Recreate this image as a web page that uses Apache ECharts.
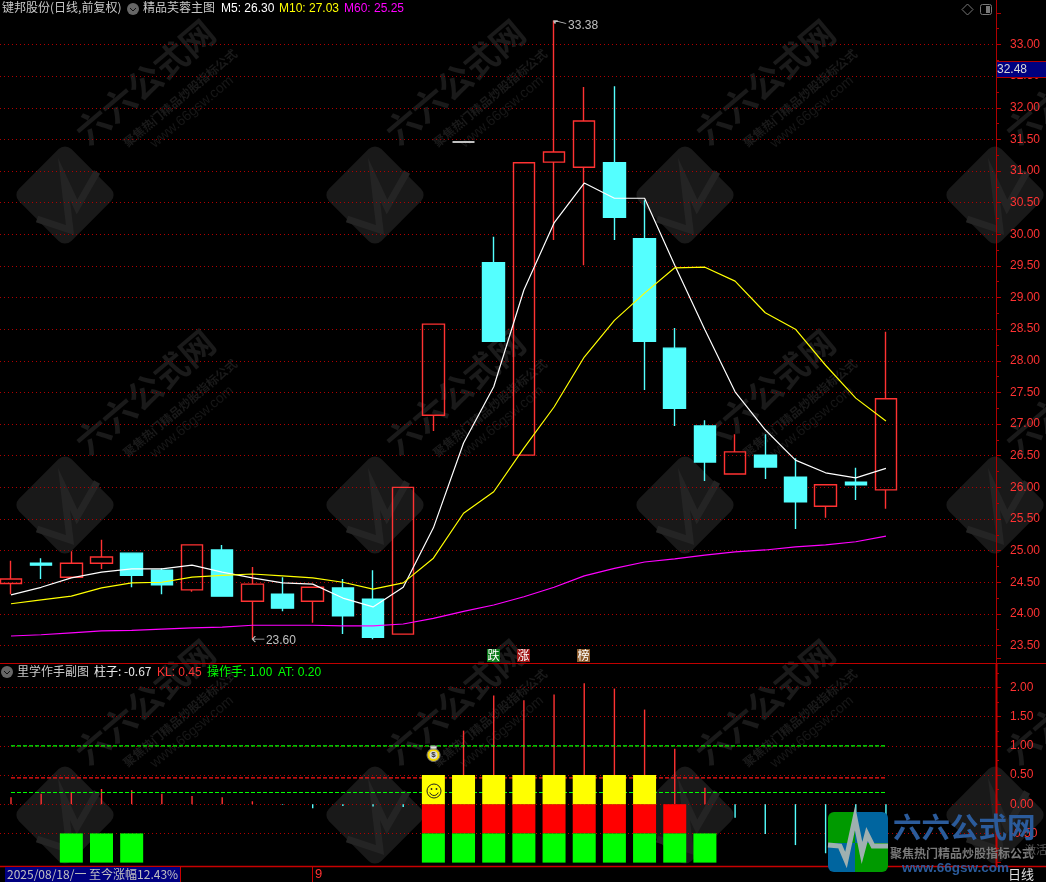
<!DOCTYPE html>
<html><head><meta charset="utf-8">
<style>html,body{margin:0;padding:0;background:#000}#c{width:1046px;height:882px}</style>
<script src="https://cdn.jsdelivr.net/npm/echarts@6/dist/echarts.min.js"></script>
</head><body><div id="c"></div>
<script>
// ---- data ----
const dayIndex=[0,1,2,3,4,5,6,7,8,9,10,11,12,13,14,15,16,17,18,19,20,21,22,23,24,25,26,27,28,29];
const barCategories=['0','1','2','3','4','5','6','7','8','9','10','11','12','13','14','15','16','17','18','19','20','21','22','23','24','25','26','27','28','29','','',''];
const opens =[24.48,24.80,24.58,24.80,24.96,24.69,24.38,25.01,24.20,24.31,24.20,24.41,24.23,23.68,27.14,31.46,29.55,26.51,31.14,31.06,31.13,29.93,28.20,26.97,26.21,26.51,26.16,25.70,26.08,25.96];
const closes=[24.55,24.77,24.80,24.90,24.61,24.46,25.09,24.28,24.47,24.09,24.42,23.97,23.63,26.00,28.58,31.46,28.31,31.13,31.30,31.79,30.27,28.31,27.25,26.40,26.56,26.32,25.77,26.04,26.04,27.40];
const lows  =[24.31,24.55,24.58,24.71,24.42,24.31,24.35,24.28,23.60,24.04,23.86,23.68,23.60,23.68,26.89,31.46,28.31,26.51,29.91,29.51,29.91,27.54,26.97,26.10,26.21,26.13,25.34,25.52,25.80,25.66];
const highs =[24.84,24.88,24.99,25.17,24.96,24.72,25.10,25.09,24.74,24.58,24.42,24.55,24.69,26.00,28.58,31.46,29.96,31.13,33.38,32.33,32.34,30.54,28.52,27.06,26.84,26.84,26.46,26.04,26.31,28.46];
const ma5 =[24.30,24.42,24.57,24.66,24.71,24.71,24.77,24.66,24.57,24.49,24.47,24.25,24.11,24.42,25.36,26.70,27.59,29.12,30.18,30.81,30.57,30.57,29.51,28.49,27.51,26.91,26.43,26.23,26.15,26.30];
const ma10=[24.16,24.22,24.28,24.41,24.49,24.50,24.58,24.61,24.63,24.60,24.57,24.50,24.39,24.49,24.88,25.59,25.93,26.62,27.27,28.06,28.64,29.07,29.47,29.48,29.26,28.76,28.50,27.93,27.41,27.05];
const ma60=[23.65,23.67,23.70,23.73,23.74,23.76,23.78,23.79,23.82,23.82,23.82,23.81,23.81,23.84,23.93,24.04,24.14,24.27,24.42,24.60,24.72,24.82,24.87,24.93,24.98,25.01,25.06,25.09,25.14,25.23];
const pillar=[0.12,0.18,0.21,0.26,0.24,0.18,0.14,0.12,0.05,-0.01,-0.07,-0.03,-0.04,-0.05,0.40,1.26,1.86,1.78,1.88,2.07,1.98,1.62,0.95,0.28,-0.23,-0.51,-0.70,-0.84,-0.85,-0.67];
const spacerBars=[null,null,-0.5,-0.5,-0.5,null,null,null,null,null,null,null,null,null,null,null,null,null,null,null,null,null,null,-0.5,null,null,null,null,null,null];
const redBars   =[null,null,null,null,null,null,null,null,null,null,null,null,null,null,-0.5,-0.5,-0.5,-0.5,-0.5,-0.5,-0.5,-0.5,-0.5,null,null,null,null,null,null,null];
const greenBars =[null,null,-0.5,-0.5,-0.5,null,null,null,null,null,null,null,null,null,-0.5,-0.5,-0.5,-0.5,-0.5,-0.5,-0.5,-0.5,-0.5,-0.5,null,null,null,null,null,null];
const yellowBars=[null,null,null,null,null,null,null,null,null,null,null,null,null,null,0.5,0.5,0.5,0.5,0.5,0.5,0.5,0.5,null,null,null,null,null,null,null,null];
const operatorLine=[1.00,1.00];
const klLine=[0.45,0.45];
const atLine=[0.20,0.20];
const lineEnds=[0,29];
const xRange=[-0.3646,32.648];

const FONT='"Liberation Sans","Noto Sans CJK SC",sans-serif';
const CJK='"Noto Sans CJK SC","Liberation Sans",sans-serif';
const RED='#ff3232',CYAN='#54ffff',GRID='#b00000',FRAME='#b00000';
const zip=a=>dayIndex.map((x,i)=>[x,a[i]]);

function txt(x,y,text,fill,size,extra){return Object.assign({type:'text',z:100,style:{x,y,text,fill,font:(extra&&extra.weight||'normal')+' '+size+'px '+((extra&&extra.family)||FONT),verticalAlign:'middle',align:(extra&&extra.align)||'left'}},extra&&extra.el||{});}
function line(x1,y1,x2,y2,stroke,w,z){return {type:'line',z:z==null?90:z,shape:{x1,y1,x2,y2},style:{stroke,lineWidth:w||1}};}
function rect(x,y,w,h,fill,r,z){return {type:'rect',z:z==null?95:z,shape:{x,y,width:w,height:h,r:r||0},style:{fill}};}

// faint repeated watermark
const wm=[];
const WMC='#1a1a1a';
[65,375,685,995].forEach(cx=>[195,505,815].forEach(cy=>{
  const ang=40*Math.PI/180;
  wm.push({type:'group',x:cx,y:cy,z:-1,children:[
    {type:'rect',z:-1,rotation:Math.PI/4,shape:{x:-37,y:-37,width:74,height:74,r:9},style:{fill:'#191919'}},
    {type:'polyline',z:-1,shape:{points:[[-28,24],[5,35],[-1,-16],[12,12],[32,-23]]},style:{stroke:'#242424',lineWidth:7,fill:null}},
    {type:'text',z:-1,x:80,y:-113,rotation:ang,style:{x:0,y:0,text:'六六公式网',fill:WMC,font:'bold 34px '+CJK,align:'center',verticalAlign:'middle'}},
    {type:'text',z:-1,x:115,y:-97,rotation:ang,style:{x:0,y:0,text:'聚焦热门精品炒股指标公式',fill:WMC,font:'bold 12px '+CJK,align:'center',verticalAlign:'middle'}},
    {type:'text',z:-1,x:127,y:-83,rotation:ang,style:{x:0,y:0,text:'www.66gsw.com',fill:'#171717',font:'14px '+FONT,align:'center',verticalAlign:'middle'}}
  ]});
}));

const icon=(cx,cy)=>[
  {type:'circle',z:100,shape:{cx,cy,r:6},style:{fill:'#666'}},
  {type:'polyline',z:101,shape:{points:[[cx-3,cy-1],[cx,cy+2],[cx+3,cy-1]]},style:{stroke:'#111',lineWidth:1,fill:null}}
];
const badge=(x,t,bg)=>[rect(x,649,13,13,bg,0,96),txt(x+6.5,655,t,'#fff',12,{family:CJK,align:'center',el:{z:97}})];

const smiley=[
  {type:'circle',z:100,shape:{cx:434,cy:791,r:7},style:{fill:null,stroke:'#222',lineWidth:1}},
  {type:'circle',z:100,shape:{cx:431.5,cy:789,r:0.9},style:{fill:'#222'}},
  {type:'circle',z:100,shape:{cx:436.5,cy:789,r:0.9},style:{fill:'#222'}},
  {type:'arc',z:100,shape:{cx:434,cy:791,r:4.5,startAngle:0.35,endAngle:2.8},style:{stroke:'#222',lineWidth:1,fill:null}}
];
const moneyBag=[
  {type:'circle',z:100,shape:{cx:433.5,cy:755,r:6.5},style:{fill:'#f4d800',stroke:'#777',lineWidth:1}},
  {type:'circle',z:101,shape:{cx:433.5,cy:755,r:4},style:{fill:'#ddd'}},
  txt(433.5,755,'$','#333',8,{align:'center',weight:'bold',el:{z:102}}),
  {type:'polygon',z:100,shape:{points:[[430,746],[437,746],[436,749],[431,749]]},style:{fill:'#ddd',stroke:'#888',lineWidth:1}}
];

const graphics=[...wm,
  // frame
  line(996.5,0,996.5,663,FRAME,1),
  line(0,663.5,1046,663.5,'#c00000',1),
  line(996.5,664,996.5,866,'#c80000',2),
  line(0,866.5,1046,866.5,'#c80000',1.5),
  // header
  txt(2,7.5,'键邦股份(日线,前复权)','#c8c8c8',12,{family:CJK}),
  ...icon(133,9),
  txt(143,7.5,'精品芙蓉主图','#c8c8c8',12,{family:CJK}),
  txt(221,8.5,'M5: 26.30','#ffffff',12),
  txt(279,8.5,'M10: 27.03','#ffff00',12),
  txt(344,8.5,'M60: 25.25','#ff00ff',12),
  // sub pane header
  ...icon(7,672),
  txt(17,671,'里学作手副图','#c8c8c8',12,{family:CJK}),
  txt(94,671,'柱子: -0.67','#e8e8e8',12,{family:CJK}),
  txt(157,672.5,'KL: 0.45',RED,12),
  txt(207,671,'操作手: 1.00','#00ff00',12,{family:CJK}),
  txt(278,672.5,'AT: 0.20','#00ff00',12),
  // top right icons
  {type:'polygon',z:100,shape:{points:[[967.5,4],[973,9.5],[967.5,15],[962,9.5]]},style:{fill:null,stroke:'#777',lineWidth:1}},
  {type:'rect',z:100,shape:{x:980.5,y:4.5,width:11,height:10,r:2},style:{fill:null,stroke:'#777',lineWidth:1}},
  rect(986,6,4,7,'#777',0,100),
  // cross value box
  {type:'rect',z:100,shape:{x:996.5,y:61.5,width:50,height:16},style:{fill:'#000080',stroke:'#b00000',lineWidth:1}},
  txt(997,69.5,'32.48','#d8d8d8',12,{el:{z:101}}),
  // badges
  ...badge(487,'跌','#0a7a1a'),...badge(517,'涨','#a01414'),...badge(577,'榜','#8b5a2b'),
  ...moneyBag,...smiley,
  // status bar
  rect(5,867,175,15,'#000080',0,95),
  line(5.5,867,5.5,882,'#c80000',1),line(180.5,867,180.5,882,'#c80000',1),line(312.5,867,312.5,882,'#c80000',1),
  txt(7,874,'2025/08/18/一 至今涨幅12.43%','#c0c0c0',12,{family:CJK}),
  txt(315,874.5,'9',RED,13),
  // site logo
  {type:'rect',z:110,shape:{x:828,y:812,width:27,height:31,r:[6,0,0,0]},style:{fill:'#009a00'}},
  {type:'rect',z:110,shape:{x:855,y:812,width:33,height:31,r:[0,6,0,0]},style:{fill:'#00659f'}},
  {type:'rect',z:110,shape:{x:828,y:843,width:27,height:29,r:[0,0,0,6]},style:{fill:'#00659f'}},
  {type:'rect',z:110,shape:{x:855,y:843,width:33,height:29,r:[0,0,6,0]},style:{fill:'#009a00'}},
  {type:'polyline',z:111,shape:{points:[[828,845],[840,846],[846,860],[855,818],[862,853],[867,834],[873,846],[888,846]]},style:{stroke:'#9fb0b0',lineWidth:5,fill:null}},
  txt(893,827,'六六公式网','#2b5b9b',28.5,{family:CJK,weight:'bold',el:{z:110}}),
  txt(890,853,'聚焦热门精品炒股指标公式','#7a7a7a',12,{family:CJK,weight:'bold',el:{z:110}}),
  txt(902,868,'www.66gsw.com','#2b5b9b',13.5,{weight:'bold',el:{z:110}}),
  txt(1008,874,'日线','#e0e0e0',13,{family:CJK,el:{z:112}}),
  txt(1025,850,'激活','#555555',11,{family:CJK,el:{z:112}})
];

const axisCommon={type:'value',position:'right',scale:true,interval:0.5,
  axisLine:{show:false,onZero:false},
  axisTick:{show:true,length:5,lineStyle:{color:FRAME}},
  minorTick:{show:true,splitNumber:2,length:3,lineStyle:{color:FRAME}},
  axisLabel:{color:RED,fontSize:12,fontFamily:FONT,margin:14,formatter:v=>v.toFixed(2),showMaxLabel:false},
  splitLine:{show:true,showMaxLine:false,lineStyle:{color:GRID,type:[1,3],width:1}}
};
const subTop=658.2,subHeight=204.4;

const chart=echarts.init(document.getElementById('c'),null,{renderer:'canvas',width:1046,height:882});
chart.setOption({
  backgroundColor:'#000',animation:false,
  grid:[{left:0,width:996,top:12.87,height:632.63,outerBoundsMode:'none'},
        {left:0,width:996,top:subTop,height:subHeight,outerBoundsMode:'none'},
        {left:-4.09,width:995.61,top:subTop,height:subHeight,outerBoundsMode:'none'}],
  xAxis:[
    {type:'value',gridIndex:0,min:xRange[0],max:xRange[1],show:false},
    {type:'value',gridIndex:1,min:xRange[0],max:xRange[1],show:false},
    {type:'category',gridIndex:2,data:barCategories,show:false}
  ],
  yAxis:[
    Object.assign({},axisCommon,{gridIndex:0,min:23.5,max:33.5}),
    Object.assign({},axisCommon,{gridIndex:1,min:-1,max:2.5,
      axisLabel:Object.assign({},axisCommon.axisLabel,{showMinLabel:false}),
      splitLine:{show:true,showMaxLine:false,showMinLine:false,lineStyle:axisCommon.splitLine.lineStyle}}),
    {type:'value',gridIndex:2,min:-1,max:2.5,show:false}
  ],
  graphic:{elements:graphics},
  series:[
    {type:'candlestick',name:'K',xAxisIndex:0,yAxisIndex:0,barWidth:22,z:3,
     data:dayIndex.map((x,i)=>[x,opens[i],closes[i],lows[i],highs[i]]),
     itemStyle:{color:'transparent',color0:CYAN,borderColor:RED,borderColor0:CYAN,borderColorDoji:'#ffffff',borderWidth:1.4},
     markPoint:{animation:false,silent:true,
       itemStyle:{color:'none',borderColor:'#c0c0c0',borderWidth:1},
       label:{color:'#c0c0c0',fontSize:12,fontFamily:FONT,position:'right',distance:2},
       data:[
        {coord:[8,23.60],symbol:'path://M0 3L12 3M0 3L3 0M0 3L3 6',symbolSize:[12,6],symbolOffset:[6,0],label:{formatter:'23.60',offset:[-4,2]}},
        {coord:[18,33.38],symbol:'path://M0 0L12 3M0 0L4 0M0 0L1 3',symbolSize:[12,3],symbolOffset:[6,1.5],label:{formatter:'33.38',offset:[-5,4]}}
       ]}
    },
    {type:'line',name:'M5',xAxisIndex:0,yAxisIndex:0,data:zip(ma5),symbol:'none',z:4,lineStyle:{color:'#ffffff',width:1.2}},
    {type:'line',name:'M10',xAxisIndex:0,yAxisIndex:0,data:zip(ma10),symbol:'none',z:4,lineStyle:{color:'#ffff00',width:1.2}},
    {type:'line',name:'M60',xAxisIndex:0,yAxisIndex:0,data:zip(ma60),symbol:'none',z:4,lineStyle:{color:'#ff00ff',width:1.2}},

    {type:'bar',name:'柱子',xAxisIndex:1,yAxisIndex:1,barWidth:1.4,z:2,data:zip(pillar),
     itemStyle:{color:p=>p.value[1]>=0?RED:CYAN}},
    {type:'line',name:'操作手',xAxisIndex:1,yAxisIndex:1,symbol:'none',z:2,data:lineEnds.map((x,i)=>[x,operatorLine[i]]),lineStyle:{color:'#00ff00',width:1.2,type:[4,2]}},
    {type:'line',name:'KL',xAxisIndex:1,yAxisIndex:1,symbol:'none',z:2,data:lineEnds.map((x,i)=>[x,klLine[i]]),lineStyle:{color:'#ff1414',width:1.2,type:[4,2]}},
    {type:'line',name:'AT',xAxisIndex:1,yAxisIndex:1,symbol:'none',z:2,data:lineEnds.map((x,i)=>[x,atLine[i]]),lineStyle:{color:'#00ff00',width:1.2,type:[4,2]}},

    {type:'bar',name:'spacer',xAxisIndex:2,yAxisIndex:2,stack:'pile',barWidth:23,z:3,data:spacerBars,itemStyle:{color:'transparent'}},
    {type:'bar',name:'red',xAxisIndex:2,yAxisIndex:2,stack:'pile',barWidth:23,z:3,data:redBars,itemStyle:{color:'#ff0000'}},
    {type:'bar',name:'green',xAxisIndex:2,yAxisIndex:2,stack:'pile',barWidth:23,z:3,data:greenBars,itemStyle:{color:'#00ff00'}},
    {type:'bar',name:'yellow',xAxisIndex:2,yAxisIndex:2,stack:'pile',barWidth:23,z:3,data:yellowBars,itemStyle:{color:'#ffff00'}}
  ]
});
</script></body></html>
